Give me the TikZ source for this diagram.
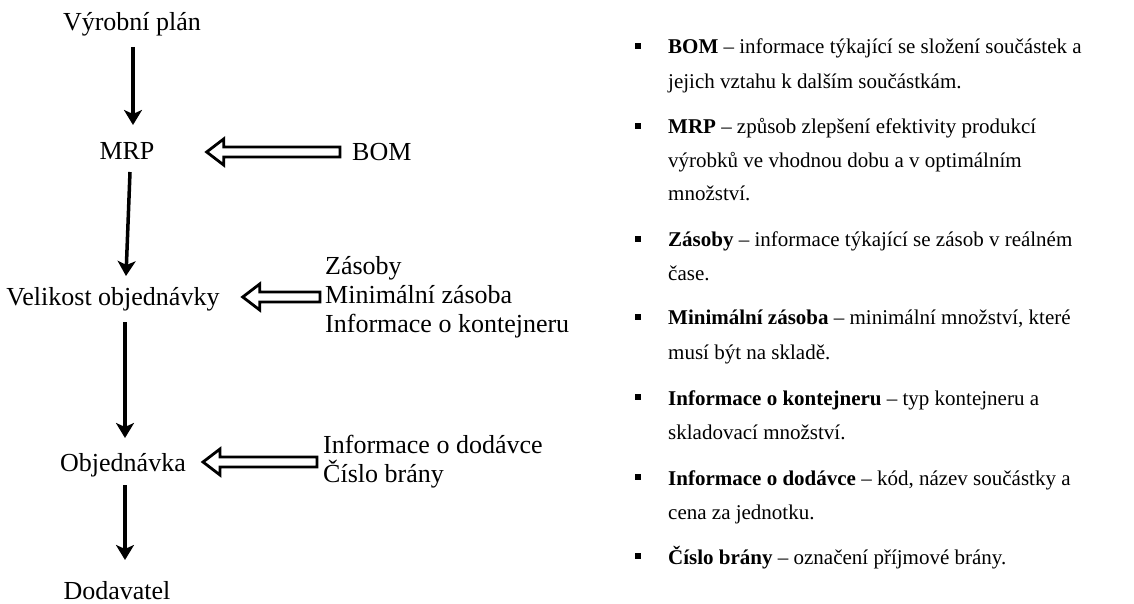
\documentclass[tikz,border=0pt]{standalone}
\usepackage{fontspec}
\setmainfont{Liberation Serif}
\usetikzlibrary{arrows.meta,calc}

\begin{document}
\begin{tikzpicture}[x=1bp,y=-1bp,
		lab/.style={inner sep=0pt,font=\fontsize{26bp}{29bp}\selectfont},
		note/.style={inner sep=0pt,anchor=base west,font=\fontsize{21bp}{25bp}\selectfont},
		flow/.style={line width=3.5bp,-{Stealth[length=15bp,width=18bp,inset=4bp]}},
		hollow/.style={line width=2.8bp,line join=miter,fill=white},
		bul/.style={fill,inner sep=0pt,minimum size=6.5bp}]
		\def\hollowarrow#1#2#3{\draw[hollow] (#1) -- ++(17,-13) -- ++(0,8) -- ($(#1 -| #2)+(#3,-5)$) -- ++(0,10) -- ($(#1)+(17,5)$) -- ++(0,8) -- cycle;}
		\useasboundingbox (0,0) rectangle (1134,604);
		% flow
		\node[lab,anchor=base] (vyr) at (132,31) {Výrobní plán};
		\node[lab,anchor=base] (mrp) at (127,160) {MRP};
		\node[lab,anchor=base] (vel) at (113,306) {Velikost objednávky};
		\node[lab,anchor=base] (obj) at (123,471) {Objednávka};
		\node[lab,anchor=base] (dod) at (117,599) {Dodavatel};
		\node[lab,anchor=base west] (bom) at (352,161) {BOM};
		\node[lab,anchor=west,align=left] (zas) at (325,297) {Zásoby\\Minimální zásoba\\Informace o kontejneru};
		\node[lab,anchor=west,align=left] (inf) at (323,462) {Informace o dodávce\\Číslo brány};
		\draw[flow] ($(vyr.base)+(1,16)$) -- ($(mrp.base)+(6,-35)$);
		\draw[flow] ($(mrp.base)+(3,12)$) -- ($(vel.base)+(13,-30)$);
		\draw[flow] ($(vel.base)+(12,16)$) -- ($(obj.base)+(2,-33)$);
		\draw[flow] ($(obj.base)+(2,14)$) -- ($(dod.base)+(8,-39)$);
		% inputs
		\path ($(mrp.base east)+(52,-8)$) coordinate (h1)
		($(vel.base east)+(23,-9)$) coordinate (h2)
		($(obj.base east)+(17,-9)$) coordinate (h3);
		\hollowarrow{h1}{bom.west}{-12}
		\hollowarrow{h2}{zas.west}{-5}
		\hollowarrow{h3}{inf.west}{-6}
		% legend
		\foreach \y/\t [count=\i] in {54/{\textbf{BOM} – informace týkající se složení součástek a},
			89/{jejich vztahu k dalším součástkám.},
			134/{\textbf{MRP} – způsob zlepšení efektivity produkcí},
			168/{výrobků ve vhodnou dobu a v optimálním},
			201/{množství.},
			247/{\textbf{Zásoby} – informace týkající se zásob v reálném},
			281/{čase.},
			325/{\textbf{Minimální zásoba} – minimální množství, které},
			359/{musí být na skladě.},
			405/{\textbf{Informace o kontejneru} – typ kontejneru a},
			439/{skladovací množství.},
			485/{\textbf{Informace o dodávce} – kód, název součástky a},
			519/{cena za jednotku.},
			564/{\textbf{Číslo brány} – označení příjmové brány.}}
		\node[note] (l\i) at (668,\y) {\t};
		\foreach \i in {1,3,6,8,10,12,14} \node[bul] (b\i) at ($(l\i.base west)+(-30,-8)$) {};
	\end{tikzpicture}
\end{document}
